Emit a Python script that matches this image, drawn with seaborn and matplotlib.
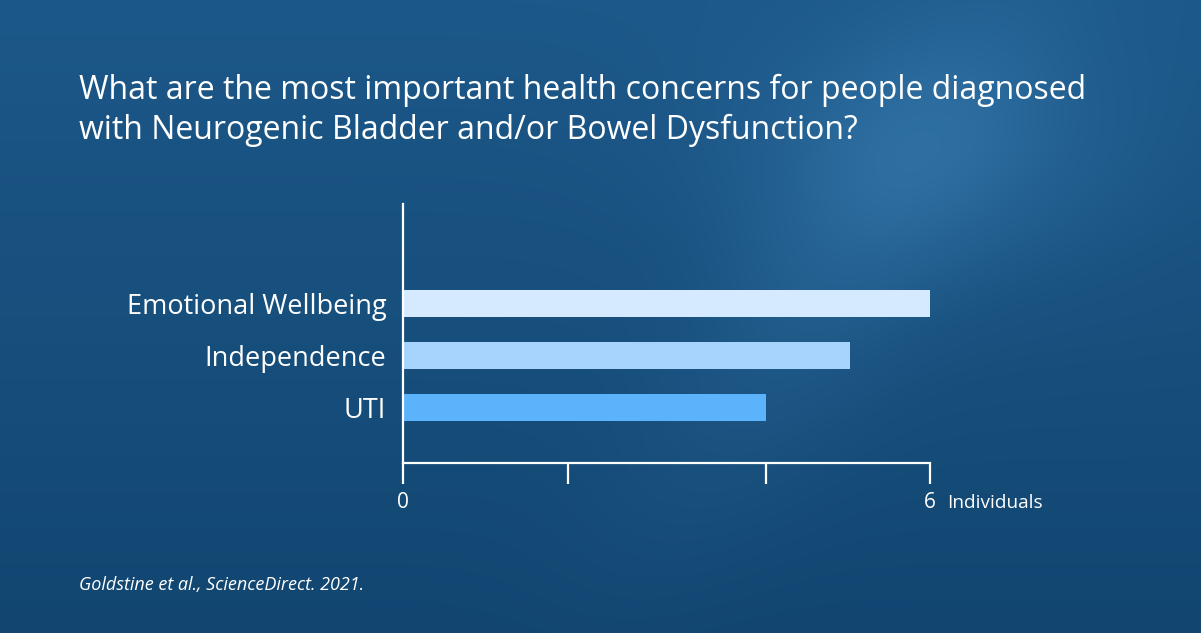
import numpy as np
import pandas as pd
import matplotlib
matplotlib.use("Agg")
import matplotlib.pyplot as plt
import seaborn as sns

# data
concerns = ["Emotional Wellbeing", "Independence", "UTI"]
individuals = [6.0, 5.09, 4.13]
bar_colors = ["#d6eaff", "#a6d4fd", "#5bb3fc"]
tick_values = [0, 1.88, 4.13, 6]
tick_labels = ["0", "", "", "6"]

title = ("What are the most important health concerns for people diagnosed\n"
         "with Neurogenic Bladder and/or Bowel Dysfunction?")
source = "Goldstine et al., ScienceDirect. 2021."

df = pd.DataFrame({"Concern": concerns, "Individuals": individuals})

sns.set_theme(style="white")
plt.rcParams["font.family"] = ["Open Sans", "DejaVu Sans"]

W, H = 1201, 633
fig = plt.figure(figsize=(W / 100, H / 100), dpi=100)

# textured blue background (smooth gradient + light cloudy band)
bg = fig.add_axes([0, 0, 1, 1], zorder=0)
yy, xx = np.mgrid[0:H, 0:W]
t = yy / H
base = np.stack([28 - 10 * t, 88 - 18 * t, 137 - 24 * t], axis=-1)
blob = np.exp(-(((xx - 930) / 200) ** 2 + ((yy - 150) / 130) ** 2))
band = np.exp(-(((xx - (1000 - 0.6 * yy)) / 120) ** 2)) * np.exp(-((yy - 250) / 260) ** 2)
glow = np.clip(0.5 * blob + 0.35 * band, 0, 1)[..., None]
img = base + glow * np.array([26, 34, 38])
bg.imshow(np.clip(img, 0, 255).astype(np.uint8), aspect="auto", extent=[0, W, H, 0])
bg.axis("off")

ax = fig.add_axes([403 / W, 1 - 462.7 / H, 527 / W, 258.7 / H], zorder=1)
ax.patch.set_alpha(0)
sns.barplot(data=df, x="Individuals", y="Concern", hue="Concern",
            palette=bar_colors, legend=False, width=0.53, saturation=1,
            orient="h", linewidth=0, ax=ax, zorder=2)

ax.set_xlim(0, 6)
ax.set_ylim(3.06, -1.91)
ax.set_xlabel("")
ax.set_ylabel("")
ax.set_xticks(tick_values)
ax.set_xticklabels(tick_labels)
for s in ["top", "right"]:
    ax.spines[s].set_visible(False)
for s in ["left", "bottom"]:
    ax.spines[s].set_color("white")
    ax.spines[s].set_linewidth(1.6)
ax.tick_params(axis="x", direction="out", length=15, width=1.6, color="white",
               labelcolor="white", labelsize=15, pad=6, bottom=True)
ax.tick_params(axis="y", length=0, labelcolor="white", labelsize=19.5, pad=12)

fig.text(947 / W, 1 - 503 / H, "Individuals", color="white", fontsize=13.7,
         ha="left", va="center")
fig.text(79 / W, 1 - 74 / H, title, color="white", fontsize=23,
         ha="left", va="top", linespacing=1.27)
fig.text(79 / W, 1 - 585 / H, source, color="white", fontsize=13,
         style="italic", ha="left", va="center")

fig.savefig("out.png", dpi=100)
